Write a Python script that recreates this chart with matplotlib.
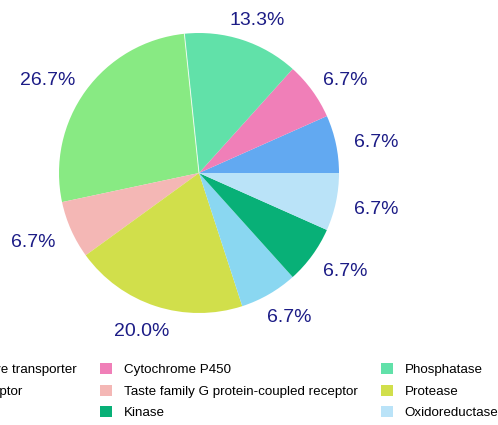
import matplotlib
matplotlib.use("Agg")
import matplotlib.pyplot as plt
import numpy as np

plt.rcParams['font.family'] = ['Liberation Sans', 'DejaVu Sans']

# slices, counter-clockwise from 3 o'clock
categories = ["Primary active transporter", "Cytochrome P450", "Phosphatase",
              "Nuclear receptor", "Taste family G protein-coupled receptor",
              "Protease", "Ion channel", "Kinase", "Oxidoreductase"]
counts = [1, 1, 2, 4, 1, 3, 1, 1, 1]
colors = ["#62a9f1", "#f07fb8", "#61e1a9", "#88ea83", "#f4b7b5",
          "#d1df4b", "#8ad7f1", "#08b077", "#bae3f8"]

# legend is filled column by column
legend_order = ["Primary active transporter", "Nuclear receptor", "Ion channel",
                "Cytochrome P450", "Taste family G protein-coupled receptor", "Kinase",
                "Phosphatase", "Protease", "Oxidoreductase"]

total = sum(counts)
pct_labels = [f"{100 * c / total:.1f}%" for c in counts]

W, H = 498, 425
fig = plt.figure(figsize=(W / 100, H / 100), dpi=100)
cx, cy, r = 199, 173, 140
ax = fig.add_axes([(cx - r) / W, (H - cy - r) / H, 2 * r / W, 2 * r / H])

wedges, _ = ax.pie(counts, colors=colors, startangle=0, counterclock=True)
ax.set_xlim(-1, 1)
ax.set_ylim(-1, 1)
ax.set_aspect("equal")

# thin seam between the phosphatase and receptor slices
seam = np.deg2rad(wedges[3].theta1)
ax.plot([0, np.cos(seam)], [0, np.sin(seam)], color="white", lw=0.7, alpha=0.8)

# percentage labels just outside the rim, pushed out by half their box
renderer = fig.canvas.get_renderer()
for w, s in zip(wedges, pct_labels):
    ang = np.deg2rad((w.theta1 + w.theta2) / 2)
    dx, dy = np.cos(ang), np.sin(ang)
    t = ax.text(0, 0, s, ha="center", va="center", color="#1c1c86", fontsize=14)
    bb = t.get_window_extent(renderer)
    px = 159 * dx + bb.width / 2 * dx
    py = 154.6 * dy + bb.height / 2 * dy - 3
    t.set_position((px / r, py / r))

handles = [wedges[categories.index(name)] for name in legend_order]
fig.legend(handles, legend_order, ncol=3, loc="upper center",
           bbox_to_anchor=(cx / W, (H - 351) / H), frameon=False,
           fontsize=9.6, handlelength=0.9, handleheight=0.9,
           handletextpad=0.9, columnspacing=1.72, labelspacing=0.63,
           borderpad=0.4)

fig.savefig("out.png", dpi=100)
